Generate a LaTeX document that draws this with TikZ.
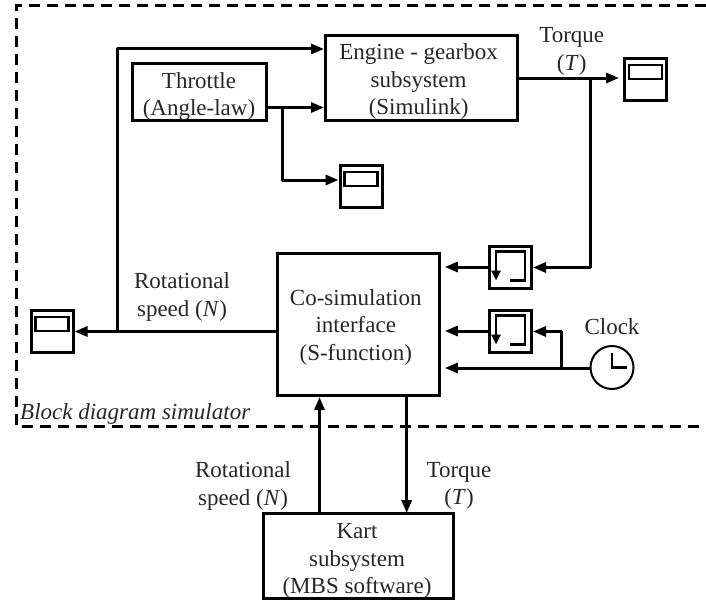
\documentclass[tikz,border=0pt]{standalone}
\usepackage{fontspec}
\setmainfont{Liberation Serif}
\usetikzlibrary{arrows.meta}
\tikzset{
  x=1pt,y=-1pt,
  blockbox/.style={draw,line width=3pt,inner sep=0pt},
  smallbox/.style={draw,line width=3pt,minimum width=42pt,minimum height=42pt,inner sep=0pt},
  wire/.style={line width=3pt,-{Triangle[length=13pt,width=10pt]},line join=round},
  lbl/.style={font=\fontsize{23}{27.5}\selectfont,align=center,text=black!85,inner sep=0pt},
  frame/.style={line width=3pt,dash pattern=on 11pt off 7pt},
}
\newcommand{\scopeicon}[1]{
  \draw[line width=2.4pt] ([xshift=6pt,yshift=-8pt]#1.north west) rectangle ([xshift=-6pt,yshift=-22pt]#1.north east);
}
\newcommand{\holdicon}[1]{
  \draw[line width=2.4pt,-{Triangle[length=10pt,width=9pt]}] ([xshift=22pt,yshift=-36pt]#1.north west) -- ([xshift=37pt,yshift=-36pt]#1.north west) -- ([xshift=37pt,yshift=-7pt]#1.north west) -- ([xshift=8pt,yshift=-7pt]#1.north west) -- ([xshift=8pt,yshift=-36pt]#1.north west);
}
\begin{document}
\begin{tikzpicture}
\useasboundingbox (0,0) rectangle (706,602);
% frame
\coordinate (fa) at (706,6);
\coordinate (fb) at (16,6);
\coordinate (fc) at (16,426);
\coordinate (fd) at (701,426);
\draw[frame] (fa) -- (fb) -- (fc) -- (fd);
\node[lbl,anchor=west,font=\fontsize{23}{26}\selectfont\itshape] (sim) at (20,413.5) {Block diagram simulator};
% blocks
\node[blockbox,minimum width=192pt,minimum height=85pt] (eng) at (421.5,78) {};
\node[lbl] (engt) at (418.6,81.5) {Engine - gearbox\\subsystem\\(Simulink)};
\node[blockbox,minimum width=134pt,minimum height=57pt] (thr) at (199.5,92) {};
\node[lbl] (thrt) at (199,96.5) {Throttle\\(Angle-law)};
\node[blockbox,minimum width=162pt,minimum height=142pt] (cos) at (358.3,324.5) {};
\node[lbl] (cost) at (355.8,327) {Co-simulation\\interface\\(S-function)};
\node[blockbox,minimum width=190pt,minimum height=85pt] (kart) at (358.3,556) {};
\node[lbl] (kartt) at (357,561) {Kart\\subsystem\\(MBS software)};
% scopes
\node[smallbox] (s1) at (645.5,79.5) {};
\node[smallbox] (s2) at (361,186.5) {};
\node[smallbox] (s3) at (52,331.5) {};
\scopeicon{s1}\scopeicon{s2}\scopeicon{s3}
% holds
\node[smallbox] (h1) at (510.5,267) {};
\node[smallbox] (h2) at (510.5,331) {};
\holdicon{h1}\holdicon{h2}
% clock
\node[draw,circle,line width=2pt,minimum size=43pt,inner sep=0pt] (clk) at (612,367.5) {};
\draw[line width=2.2pt] ([yshift=15pt]clk.center) -- (clk.center) -- ([xshift=15pt]clk.center);
\node[lbl] (clbl) at (612,327) {Clock};
% helper coordinates
\coordinate (j1) at (117,331.5);
\coordinate (j1t) at (117,49);
\coordinate (j2) at (282,107.5);
\coordinate (j2b) at (282,180);
\coordinate (j3) at (590,78);
\coordinate (j3b) at (590,267.5);
\coordinate (j4) at (561,368);
\coordinate (j4t) at (561,331.5);
% wires
\draw[wire] (cos.west |- s3) -- (s3.east);
\draw[wire] (j1) -- (j1t) -- (j1t -| eng.west);
\draw[wire] (thr.east |- j2) -- (j2 -| eng.west);
\draw[wire] (j2) -- (j2b) -- (j2b -| s2.west);
\draw[wire,shorten >=4pt] (eng.east |- j3) -- (j3 -| s1.west);
\draw[wire] (j3) -- (j3b) -- (j3b -| h1.east);
\draw[wire,shorten >=4pt] (h1.west) -- (h1.west -| cos.east);
\draw[wire,shorten >=4pt] (h2.west) -- (h2.west -| cos.east);
\draw[wire,shorten >=4pt] (j4 -| clk.west) -- (j4 -| cos.east);
\draw[wire] (j4) -- (j4t) -- (j4t -| h2.east);
\coordinate (k1) at (319.5,513);
\coordinate (c1) at (319.5,397);
\coordinate (k2) at (406.7,513);
\coordinate (c2) at (406.7,397);
\draw[wire] (k1) -- (c1);
\draw[wire] (c2) -- (k2);
% labels
\node[lbl] (l1) at (571.7,51.5) {Torque\\(\textit{T})};
\node[lbl] (l2) at (182,297) {Rotational\\speed (\textit{N})};
\node[lbl] (l3) at (243,486) {Rotational\\speed (\textit{N})};
\node[lbl] (l4) at (459,486) {Torque\\(\textit{T})};
\end{tikzpicture}
\end{document}
